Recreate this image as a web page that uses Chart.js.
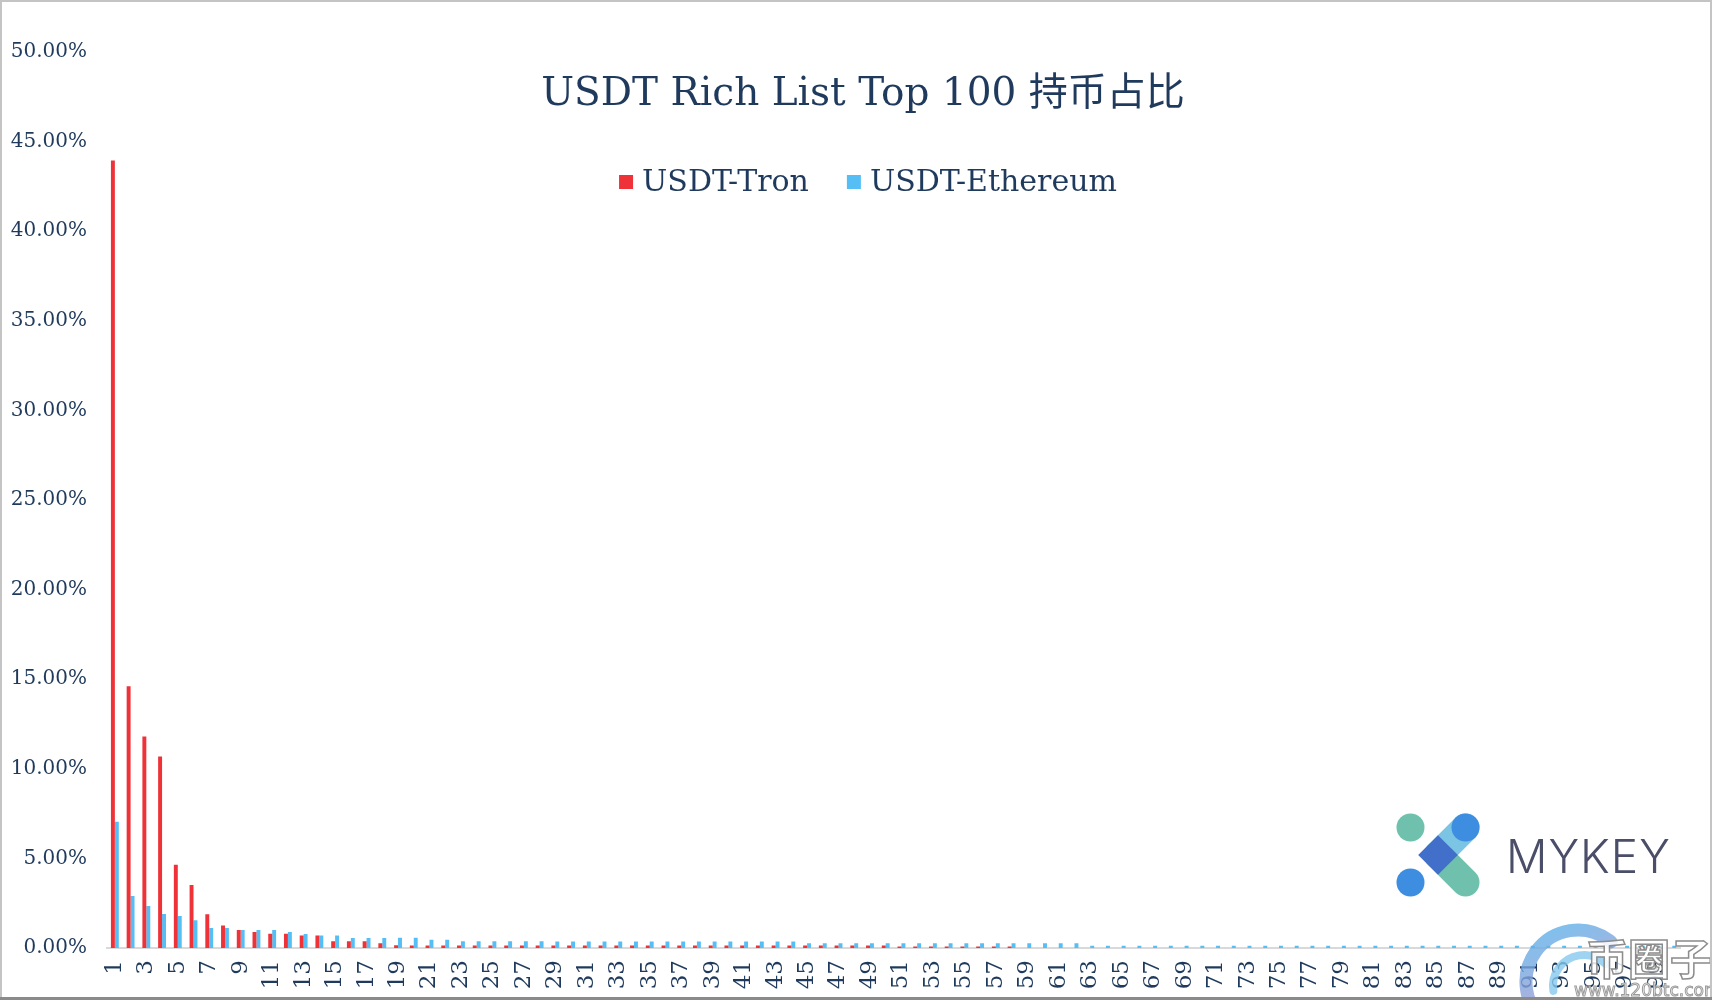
<!DOCTYPE html>
<html>
<head>
<meta charset="utf-8">
<script src="https://cdn.jsdelivr.net/npm/chart.js@4.4.1/dist/chart.umd.min.js"></script>
<style>
  html, body { margin: 0; padding: 0; background: #fff; }
  #wrap { width: 1712px; height: 1000px; }
</style>
</head>
<body>
<div id="wrap"><canvas id="rich-chart" width="1712" height="1000"></canvas></div>
<script>
// ranks 1..100
const ranks = [
  "1","2","3","4","5","6","7","8","9","10",
  "11","12","13","14","15","16","17","18","19","20",
  "21","22","23","24","25","26","27","28","29","30",
  "31","32","33","34","35","36","37","38","39","40",
  "41","42","43","44","45","46","47","48","49","50",
  "51","52","53","54","55","56","57","58","59","60",
  "61","62","63","64","65","66","67","68","69","70",
  "71","72","73","74","75","76","77","78","79","80",
  "81","82","83","84","85","86","87","88","89","90",
  "91","92","93","94","95","96","97","98","99","100"
];

// share of supply held, in %
const tron_share = [
  43.95, 14.60, 11.80, 10.68, 4.65, 3.52, 1.88, 1.25, 1.00, 0.89,
  0.80, 0.80, 0.70, 0.70, 0.37, 0.37, 0.37, 0.26, 0.15, 0.14,
  0.14, 0.14, 0.14, 0.14, 0.14, 0.14, 0.14, 0.14, 0.14, 0.14,
  0.14, 0.14, 0.14, 0.14, 0.14, 0.14, 0.14, 0.14, 0.14, 0.14,
  0.14, 0.14, 0.14, 0.14, 0.14, 0.14, 0.14, 0.14, 0.14, 0.14,
  0.08, 0.08, 0.08, 0.08, 0.08, 0.08, 0.08, 0.08, 0, 0,
  0, 0, 0, 0, 0, 0, 0, 0, 0, 0,
  0, 0, 0, 0, 0, 0, 0, 0, 0, 0,
  0, 0, 0, 0, 0, 0, 0, 0, 0, 0,
  0, 0, 0, 0, 0, 0, 0, 0, 0, 0
];

const eth_share = [
  7.05, 2.90, 2.35, 1.90, 1.78, 1.55, 1.12, 1.12, 1.00, 1.00,
  1.00, 0.89, 0.78, 0.70, 0.70, 0.56, 0.56, 0.56, 0.57, 0.57,
  0.46, 0.46, 0.37, 0.37, 0.37, 0.37, 0.37, 0.37, 0.36, 0.36,
  0.36, 0.36, 0.36, 0.36, 0.36, 0.36, 0.36, 0.36, 0.36, 0.36,
  0.36, 0.36, 0.36, 0.36, 0.26, 0.26, 0.26, 0.26, 0.26, 0.26,
  0.26, 0.26, 0.26, 0.26, 0.26, 0.26, 0.26, 0.26, 0.26, 0.26,
  0.26, 0.26, 0.12, 0.12, 0.12, 0.12, 0.12, 0.12, 0.12, 0.12,
  0.12, 0.12, 0.12, 0.12, 0.12, 0.12, 0.12, 0.12, 0.12, 0.12,
  0.12, 0.12, 0.12, 0.12, 0.12, 0.12, 0.12, 0.12, 0.12, 0.12,
  0.12, 0.12, 0.12, 0.12, 0.12, 0.12, 0.12, 0.12, 0.12, 0.12
];

const series_names = ["USDT-Tron", "USDT-Ethereum"];
const title_text = "USDT Rich List Top 100 持币占比";
const y_max = 50;
const y_step = 5;

const navy = "#1f3a5c";
const serif = '"DejaVu Serif", "Noto Sans CJK SC", serif';

// title + legend sit inside the plot, like the excel original
const overlay_plugin = {
  id: "overlay",
  beforeDraw(chart) {
    const ctx = chart.ctx;
    ctx.save();
    ctx.fillStyle = "#fff";
    ctx.fillRect(0, 0, chart.width, chart.height);
    ctx.restore();
  },
  afterDraw(chart) {
    const ctx = chart.ctx;
    ctx.save();

    // title
    ctx.fillStyle = navy;
    ctx.font = "39px " + serif;
    ctx.textAlign = "center";
    ctx.textBaseline = "middle";
    ctx.fillText(title_text, 863, 95);

    // legend
    ctx.font = "30px " + serif;
    ctx.textAlign = "left";
    const box = 14, gap = 9, item_gap = 38;
    const items = chart.data.datasets.map(ds => ({
      label: ds.label, color: ds.backgroundColor, w: ctx.measureText(ds.label).width
    }));
    let total = 0;
    items.forEach((it, i) => { total += box + gap + it.w + (i ? item_gap : 0); });
    let x = 868 - total / 2;
    const y = 182;
    items.forEach((it, i) => {
      if (i) x += item_gap;
      ctx.fillStyle = it.color;
      ctx.fillRect(x, y - box / 2, box, box);
      x += box + gap;
      ctx.fillStyle = navy;
      ctx.fillText(it.label, x, y + 1);
      x += it.w;
    });

    drawLogo(ctx);
    drawWatermark(ctx);

    // picture frame
    ctx.strokeStyle = "#c4c4c4";
    ctx.lineWidth = 2;
    ctx.strokeRect(1, 1, chart.width - 2, chart.height - 2);
    ctx.fillStyle = "#8a8a8a";
    ctx.fillRect(0, chart.height - 3, chart.width, 3);
    ctx.restore();
  }
};

function drawLogo(ctx) {
  const cx = 1438, cy = 855, d = 27.5, r = 14;
  ctx.save();
  ctx.lineCap = "round";
  ctx.lineWidth = r * 2;
  ctx.strokeStyle = "#7cc4e3";
  ctx.beginPath(); ctx.moveTo(cx, cy); ctx.lineTo(cx + d, cy - d); ctx.stroke();
  ctx.strokeStyle = "#6fc1ae";
  ctx.beginPath(); ctx.moveTo(cx, cy); ctx.lineTo(cx + d, cy + d); ctx.stroke();
  // middle diamond
  ctx.fillStyle = "#416fc9";
  ctx.beginPath();
  ctx.moveTo(cx - 19.8, cy); ctx.lineTo(cx, cy - 19.8);
  ctx.lineTo(cx + 19.8, cy); ctx.lineTo(cx, cy + 19.8);
  ctx.closePath(); ctx.fill();
  const dots = [[cx - d, cy - d, "#6fc1ae"], [cx + d, cy - d, "#3d8ee0"], [cx - d, cy + d, "#3d8ee0"]];
  dots.forEach(p => {
    ctx.fillStyle = p[2];
    ctx.beginPath(); ctx.arc(p[0], p[1], r, 0, Math.PI * 2); ctx.fill();
  });
  ctx.fillStyle = "#4a4e68";
  ctx.font = '300 46px "Inter", "Lato", sans-serif';
  ctx.textAlign = "left";
  ctx.textBaseline = "alphabetic";
  ctx.letterSpacing = "1px";
  ctx.fillText("MYKEY", 1506, 873);
  ctx.restore();
}

function drawWatermark(ctx) {
  ctx.save();
  ctx.lineCap = "round";
  ctx.globalAlpha = 0.8;
  const grad = ctx.createLinearGradient(1525, 920, 1560, 1000);
  grad.addColorStop(0, "#4fb6ef");
  grad.addColorStop(1, "#9c9ad2");
  ctx.strokeStyle = grad;
  ctx.lineWidth = 13;
  ctx.beginPath(); ctx.arc(1578, 982, 52, Math.PI * 0.7, Math.PI * 1.72); ctx.stroke();
  ctx.strokeStyle = "#86c9ee";
  ctx.lineWidth = 8;
  ctx.beginPath(); ctx.arc(1584, 986, 31, Math.PI * 0.95, Math.PI * 1.75); ctx.stroke();
  ctx.globalAlpha = 1;
  ctx.font = 'bold 42px "Noto Sans CJK SC", sans-serif';
  ctx.textAlign = "left";
  ctx.textBaseline = "alphabetic";
  ctx.fillStyle = "rgba(255,255,255,0.85)";
  ctx.fillText("币圈子", 1586, 975);
  ctx.strokeStyle = "#8c8c8c";
  ctx.lineWidth = 1.5;
  ctx.strokeText("币圈子", 1586, 975);
  ctx.font = '17px "DejaVu Sans", sans-serif';
  ctx.lineWidth = 1;
  ctx.strokeStyle = "#9a9a9a";
  ctx.fillText("www.120btc.com", 1574, 996);
  ctx.strokeText("www.120btc.com", 1574, 996);
  ctx.restore();
}

const chart_canvas = document.getElementById("rich-chart");

new Chart(chart_canvas, {
  type: "bar",
  data: {
    labels: ranks,
    datasets: [
      { label: series_names[0], data: tron_share, backgroundColor: "#ee3238" },
      { label: series_names[1], data: eth_share, backgroundColor: "#55bff5" }
    ]
  },
  options: {
    responsive: false,
    animation: false,
    devicePixelRatio: 1,
    layout: { padding: { top: 52, right: 22, left: 0, bottom: 0 } },
    datasets: { bar: { categoryPercentage: 0.5, barPercentage: 1.0 } },
    plugins: {
      legend: { display: false },
      title: { display: false },
      tooltip: { enabled: false }
    },
    scales: {
      x: {
        grid: { display: false, drawTicks: false },
        border: { display: true, color: "#d9d9d9", width: 2 },
        ticks: {
          autoSkip: false,
          maxRotation: 90,
          minRotation: 90,
          padding: 12,
          color: navy,
          font: { family: serif, size: 23 },
          callback: (v, i) => (i % 2 === 0 ? ranks[i] : "")
        },
        afterFit: scale => { scale.height = 52; }
      },
      y: {
        min: 0,
        max: y_max,
        grid: { display: false, drawTicks: false },
        border: { display: false },
        ticks: {
          stepSize: y_step,
          padding: 20,
          color: navy,
          font: { family: serif, size: 20 },
          callback: v => v.toFixed(2) + "%"
        },
        afterFit: scale => { scale.width = 107; }
      }
    }
  },
  plugins: [overlay_plugin]
});
</script>
</body>
</html>
